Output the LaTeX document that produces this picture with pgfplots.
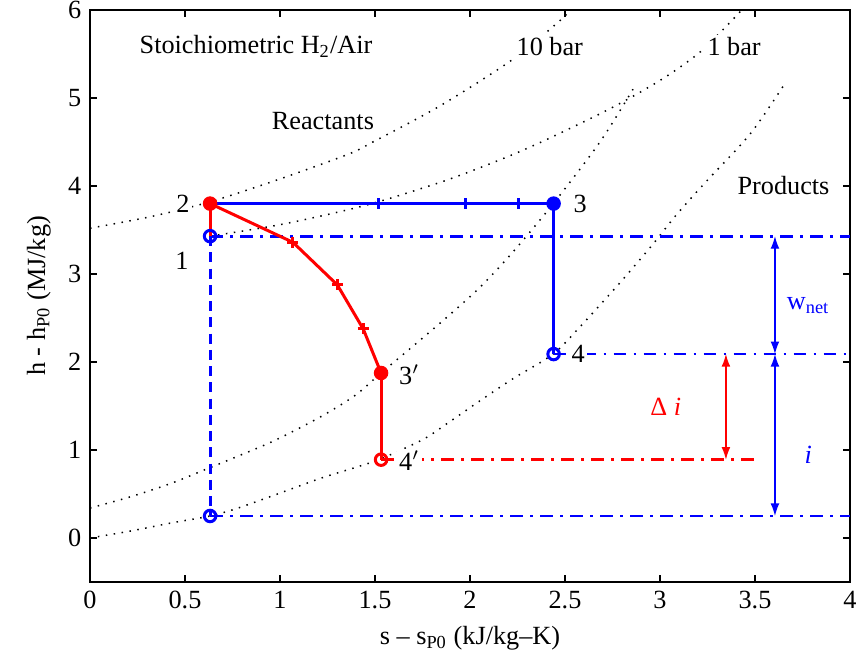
\documentclass[border=0pt]{standalone}
\usepackage{fontspec}
\setmainfont{Liberation Serif}
\usepackage{pgfplots}
\pgfplotsset{compat=1.18}
\usetikzlibrary{calc,arrows.meta}

\definecolor{mblue}{RGB}{0,0,255}
\definecolor{mred}{RGB}{255,0,0}

\tikzset{
  dotcurve/.style={black, line width=0.6pt, dash pattern=on 0.6pt off 2.6pt, smooth},
  dashdot/.style={line width=1.1pt, dash pattern=on 5pt off 3pt on 1pt off 3pt},
  lab/.style={fill=white, inner sep=1pt},
  dbl/.style={line width=0.5pt, arrows={Latex[length=5pt,width=3.5pt]-Latex[length=5pt,width=3.5pt]}},
}

\begin{document}
\begin{tikzpicture}[font=\fontsize{10.5}{12.6}\selectfont]
\begin{axis}[
  scale only axis,
  width=304pt, height=228.8pt,
  xmin=0, xmax=4, ymin=-0.5, ymax=6,
  xtick={0,0.5,1,1.5,2,2.5,3,3.5,4},
  xticklabels={0,0.5,1,1.5,2,2.5,3,3.5,4},
  ytick={0,1,2,3,4,5,6},
  tick align=inside,
  major tick length=2.8pt,
  axis line style={line width=1pt},
  tick style={black, line width=0.8pt},
  /pgf/number format/assume math mode=true,
  xlabel={s -- s\textsubscript{P0} (kJ/kg--K)},
  ylabel={h - h\textsubscript{P0} (MJ/kg)},
]

% isobars: reactants 10 bar, reactants 1 bar, products 10 bar, products 1 bar
\addplot[dotcurve] coordinates {
(0,3.52) (0.316,3.65) (0.632,3.82) (1.0,4.08) (1.358,4.36) (1.489,4.50)
(1.842,4.91) (2.226,5.44) (2.463,5.86) (2.53,6.0)};
\addplot[dotcurve] coordinates {
(0.632,3.43) (1.0,3.56) (1.358,3.73) (1.579,3.86) (1.895,4.08) (2.195,4.33)
(2.405,4.53) (2.684,4.82) (2.858,5.02) (3.037,5.25) (3.21,5.52) (3.36,5.84) (3.43,6.0)};
\addplot[dotcurve] coordinates {
(0,0.34) (0.216,0.47) (0.426,0.62) (0.632,0.80) (0.779,0.93) (0.974,1.11)
(1.216,1.38) (1.395,1.62) (1.532,1.875) (1.70,2.18) (1.879,2.51) (2.053,2.85)
(2.226,3.25) (2.442,3.81) (2.684,4.50) (2.858,5.10)};
\addplot[dotcurve] coordinates {
(0,0) (0.216,0.08) (0.426,0.17) (0.632,0.25) (0.779,0.34) (0.974,0.49)
(1.216,0.68) (1.395,0.80) (1.532,0.90) (1.753,1.12) (1.879,1.30) (2.053,1.56)
(2.226,1.81) (2.437,2.09) (2.579,2.40) (2.789,2.90) (2.963,3.34) (3.089,3.68)
(3.247,4.06) (3.474,4.59) (3.647,5.13)};

% reference levels
\addplot[mblue, dashdot] coordinates {(0.632,3.43) (4,3.43)};
\addplot[mblue, dashdot] coordinates {(2.44,2.09) (4,2.09)};
\addplot[mblue, dashdot] coordinates {(0.632,0.25) (4,0.25)};
\addplot[mred, dashdot] coordinates {(1.532,0.89) (3.51,0.89)};
\addplot[mblue, line width=1.2pt, dash pattern=on 4pt off 2.5pt] coordinates {(0.632,3.43) (0.632,0.25)};

% ideal cycle
\addplot[mblue, line width=1.2pt, mark=+, mark size=2.2pt] coordinates {
(0.632,3.8) (1.516,3.8) (1.974,3.8) (2.253,3.8) (2.44,3.8)};
\addplot[mblue, line width=1.2pt] coordinates {(2.44,3.8) (2.44,2.09)};

% real cycle
\addplot[mred, line width=1.2pt] coordinates {(0.632,3.43) (0.632,3.8)};
\addplot[mred, line width=1.2pt, mark=+, mark size=2.2pt] coordinates {
(0.632,3.8) (1.068,3.36) (1.302,2.875) (1.438,2.375) (1.532,1.875)};
\addplot[mred, line width=1.2pt] coordinates {(1.532,1.875) (1.532,0.89)};

% state points
\addplot[only marks, mark=o, mark size=2.3pt, line width=1.2pt, mblue] coordinates {
(0.632,3.43) (2.44,2.09) (0.632,0.25)};
\addplot[only marks, mark=*, mark size=2.7pt, mblue] coordinates {(2.44,3.8)};
\addplot[only marks, mark=*, mark size=2.7pt, mred] coordinates {(0.632,3.8) (1.532,1.875)};
\addplot[only marks, mark=o, mark size=2.3pt, line width=1.2pt, mred] coordinates {(1.532,0.89)};

% arrows
\addplot[mblue, dbl] coordinates {(3.605,3.43) (3.605,2.09)};
\addplot[mblue, dbl] coordinates {(3.605,2.09) (3.605,0.25)};
\addplot[mred, dbl] coordinates {(3.347,2.09) (3.347,0.89)};

% labels
\node[lab] at (axis cs:0.874,5.59) {Stoichiometric H\textsubscript{2}/Air};
\node[lab] at (axis cs:1.226,4.74) {Reactants};
\node[lab] at (axis cs:2.42,5.58) {10 bar};
\node[lab] at (axis cs:3.39,5.58) {1 bar};
\node[lab] at (axis cs:3.65,4.0) {Products};
\node[lab] at (axis cs:0.489,3.8) {2};
\node[lab] at (axis cs:0.484,3.15) {1};
\node[lab] at (axis cs:2.58,3.8) {3};
\node[lab] at (axis cs:2.57,2.09) {4};
\node[lab] at (axis cs:1.68,1.86) {3$'$};
\node[lab] at (axis cs:1.68,0.875) {4$'$};
\node[text=mblue] at (axis cs:3.78,2.64) {w\textsubscript{net}};
\node[text=mred] at (axis cs:3.03,1.49) {Δ \textit{i}};
\node[text=mblue] at (axis cs:3.78,0.95) {\textit{i}};
\end{axis}
\pgfresetboundingbox
\path[use as bounding box] ($(current axis.south west)+(-36pt,-32.4pt)$) rectangle ($(current axis.north east)+(3.6pt,4pt)$);
\end{tikzpicture}
\end{document}
